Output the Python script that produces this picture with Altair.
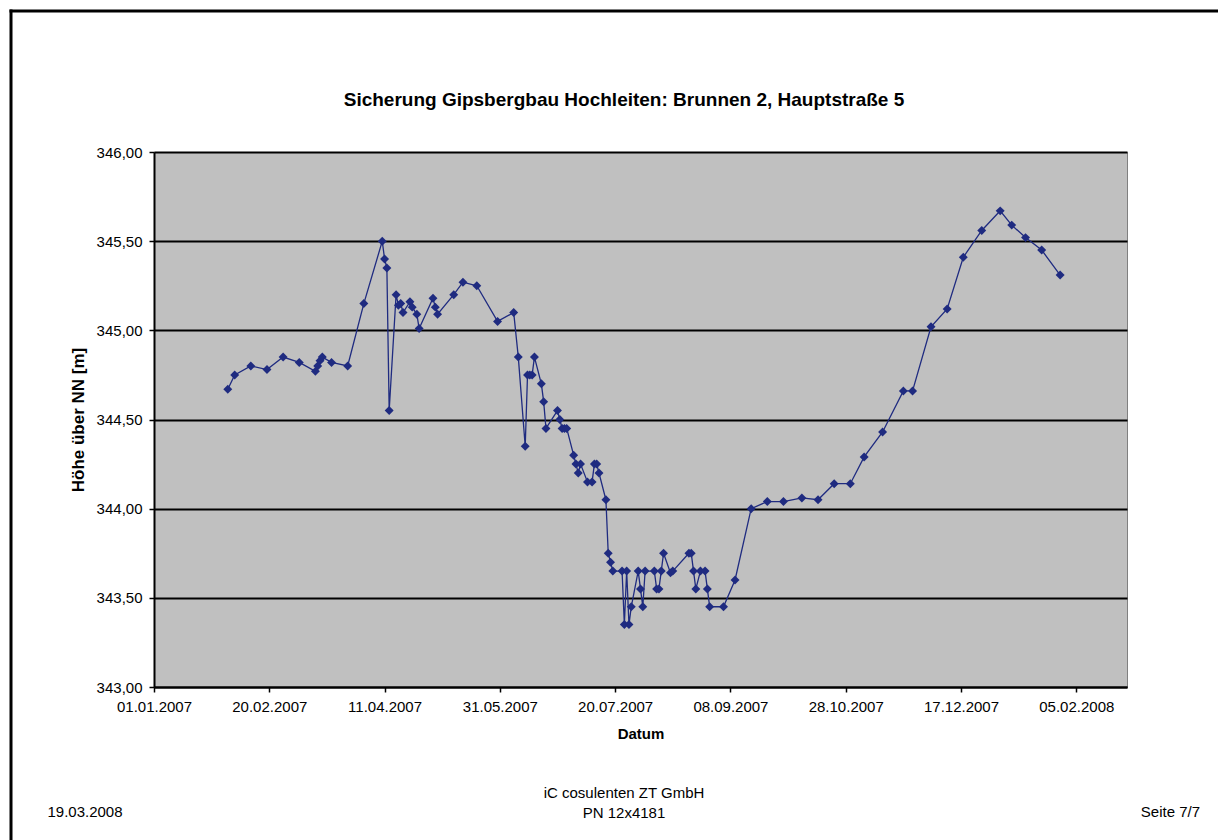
import altair as alt
import pandas as pd

# Water level readings, well 2 (Hauptstraße 5)
dates = [
    "2007-02-02", "2007-02-05", "2007-02-12", "2007-02-19", "2007-02-26",
    "2007-03-05", "2007-03-12", "2007-03-13", "2007-03-14", "2007-03-15",
    "2007-03-19", "2007-03-26", "2007-04-02", "2007-04-10", "2007-04-11",
    "2007-04-12", "2007-04-13", "2007-04-16", "2007-04-17", "2007-04-18",
    "2007-04-19", "2007-04-22", "2007-04-23", "2007-04-25", "2007-04-26",
    "2007-05-02", "2007-05-03", "2007-05-04", "2007-05-11", "2007-05-15",
    "2007-05-21", "2007-05-30", "2007-06-06", "2007-06-08", "2007-06-11",
    "2007-06-12", "2007-06-13", "2007-06-14", "2007-06-15", "2007-06-18",
    "2007-06-19", "2007-06-20", "2007-06-25", "2007-06-26", "2007-06-27",
    "2007-06-28", "2007-06-29", "2007-07-02", "2007-07-03", "2007-07-04",
    "2007-07-05", "2007-07-08", "2007-07-10", "2007-07-11", "2007-07-12",
    "2007-07-13", "2007-07-16", "2007-07-17", "2007-07-18", "2007-07-19",
    "2007-07-23", "2007-07-24", "2007-07-25", "2007-07-26", "2007-07-27",
    "2007-07-30", "2007-07-31", "2007-08-01", "2007-08-02", "2007-08-06",
    "2007-08-07", "2007-08-08", "2007-08-09", "2007-08-10", "2007-08-13",
    "2007-08-14", "2007-08-21", "2007-08-22", "2007-08-23", "2007-08-24",
    "2007-08-26", "2007-08-28", "2007-08-29", "2007-08-30", "2007-09-05",
    "2007-09-10", "2007-09-17", "2007-09-24", "2007-10-01", "2007-10-09",
    "2007-10-16", "2007-10-23", "2007-10-30", "2007-11-05", "2007-11-13",
    "2007-11-22", "2007-11-26", "2007-12-04", "2007-12-11", "2007-12-18",
    "2007-12-26", "2008-01-03", "2008-01-08", "2008-01-14", "2008-01-21",
    "2008-01-29",
]
levels = [
    344.67, 344.75, 344.80, 344.78, 344.85,
    344.82, 344.77, 344.80, 344.83, 344.85,
    344.82, 344.80, 345.15, 345.50, 345.40,
    345.35, 344.55, 345.20, 345.14, 345.15,
    345.10, 345.16, 345.13, 345.09, 345.01,
    345.18, 345.13, 345.09, 345.20, 345.27,
    345.25, 345.05, 345.10, 344.85, 344.35,
    344.75, 344.75, 344.75, 344.85, 344.70,
    344.60, 344.45, 344.55, 344.50, 344.45,
    344.45, 344.45, 344.30, 344.25, 344.20,
    344.25, 344.15, 344.15, 344.25, 344.25,
    344.20, 344.05, 343.75, 343.70, 343.65,
    343.65, 343.35, 343.65, 343.35, 343.45,
    343.65, 343.55, 343.45, 343.65, 343.65,
    343.55, 343.55, 343.65, 343.75, 343.64,
    343.65, 343.75, 343.75, 343.65, 343.55,
    343.65, 343.65, 343.55, 343.45, 343.45,
    343.60, 344.00, 344.04, 344.04, 344.06,
    344.05, 344.14, 344.14, 344.29, 344.43,
    344.66, 344.66, 345.02, 345.12, 345.41,
    345.56, 345.67, 345.59, 345.52, 345.45,
    345.31,
]

x_ticks = ["2007-01-01", "2007-02-20", "2007-04-11", "2007-05-31", "2007-07-20",
           "2007-09-08", "2007-10-28", "2007-12-17", "2008-02-05"]
x_range = ["2007-01-01", "2008-02-27"]
y_ticks = [343.0, 343.5, 344.0, 344.5, 345.0, 345.5, 346.0]

title_text = "Sicherung Gipsbergbau Hochleiten: Brunnen 2, Hauptstraße 5"
x_title = "Datum"
y_title = "Höhe über NN [m]"
footer_left = "19.03.2008"
footer_center = ["iC cosulenten ZT GmbH", "PN 12x4181"]
footer_right = "Seite 7/7"

FONT = "Liberation Sans"
NAVY = "#1F2B80"


def to_dt(s):
    y, m, d = (int(p) for p in s.split("-"))
    return alt.DateTime(year=y, month=m, date=d, utc=True)


df = pd.DataFrame({"Datum": dates, "Hoehe": levels})

W, H = 973, 535

x_enc = alt.X(
    "Datum:T",
    scale=alt.Scale(type="utc", domain=[to_dt(s) for s in x_range]),
    axis=alt.Axis(
        values=[to_dt(s) for s in x_ticks],
        labelExpr="utcFormat(datum.value, '%d.%m.%Y')",
        labelFlush=False, labelOverlap=False,
        grid=False,
        domainColor="black", domainWidth=2,
        tickColor="black", tickWidth=1.5, tickSize=5,
        labelPadding=7, labelFontSize=15, labelColor="black", labelFont=FONT,
        title=x_title, titleFont=FONT, titleFontSize=15, titleFontWeight="bold",
        titleColor="black", titleX=W / 2, titleY=46, titleBaseline="middle",
    ),
)
y_enc = alt.Y(
    "Hoehe:Q",
    scale=alt.Scale(domain=[343, 346], nice=False, zero=False),
    axis=alt.Axis(
        values=y_ticks,
        labelExpr="replace(format(datum.value, '.2f'), '.', ',')",
        labelOverlap=False,
        grid=True, gridColor="black", gridWidth=2, gridOpacity=1,
        domainColor="black", domainWidth=2,
        tickColor="black", tickWidth=1.5, tickSize=5,
        labelPadding=7, labelFontSize=15, labelColor="black", labelFont=FONT,
        title=y_title, titleFont=FONT, titleFontSize=17, titleFontWeight="bold",
        titleColor="black", titleX=-76, titleY=H / 2, titleAngle=270,
        titleAlign="center", titleBaseline="middle",
    ),
)

series = alt.Chart(df).mark_line(
    color=NAVY, strokeWidth=1.3,
    point=alt.OverlayMarkDef(shape="diamond", size=80, color=NAVY, filled=True, opacity=1),
).encode(x=x_enc, y=y_enc)


def label(text, x, y, size=15, weight="normal", align="center"):
    return alt.Chart(pd.DataFrame({"t": [text]})).mark_text(
        font=FONT, fontSize=size, fontWeight=weight, align=align,
        baseline="middle", color="black",
    ).encode(text="t:N", x=alt.value(x), y=alt.value(y))


title = label(title_text, 470, -52, size=19, weight="bold")
f_left = label(footer_left, -69, 660)
f_c1 = label(footer_center[0], 470, 641)
f_c2 = label(footer_center[1], 470, 661)
f_right = label(footer_right, 1046, 660, align="right")

# page frame: left and top edges
frame_left = alt.Chart(pd.DataFrame({"k": [0]})).mark_rule(
    color="black", strokeWidth=3
).encode(x=alt.value(-143), y=alt.value(-142.5), y2=alt.value(688))
frame_top = alt.Chart(pd.DataFrame({"k": [0]})).mark_rule(
    color="black", strokeWidth=3
).encode(x=alt.value(-144.5), x2=alt.value(1064), y=alt.value(-141))

chart = alt.layer(
    series, title, f_left, f_c1, f_c2, f_right, frame_left, frame_top
).properties(
    width=W, height=H,
    autosize=alt.AutoSizeParams(type="none"),
    padding={"left": 154, "top": 152, "right": 91, "bottom": 153},
    background="white",
).configure_view(
    fill="#C0C0C0", stroke="#808080", strokeWidth=1
)

chart.save("out.html", embed_options={"renderer": "svg", "actions": False})
